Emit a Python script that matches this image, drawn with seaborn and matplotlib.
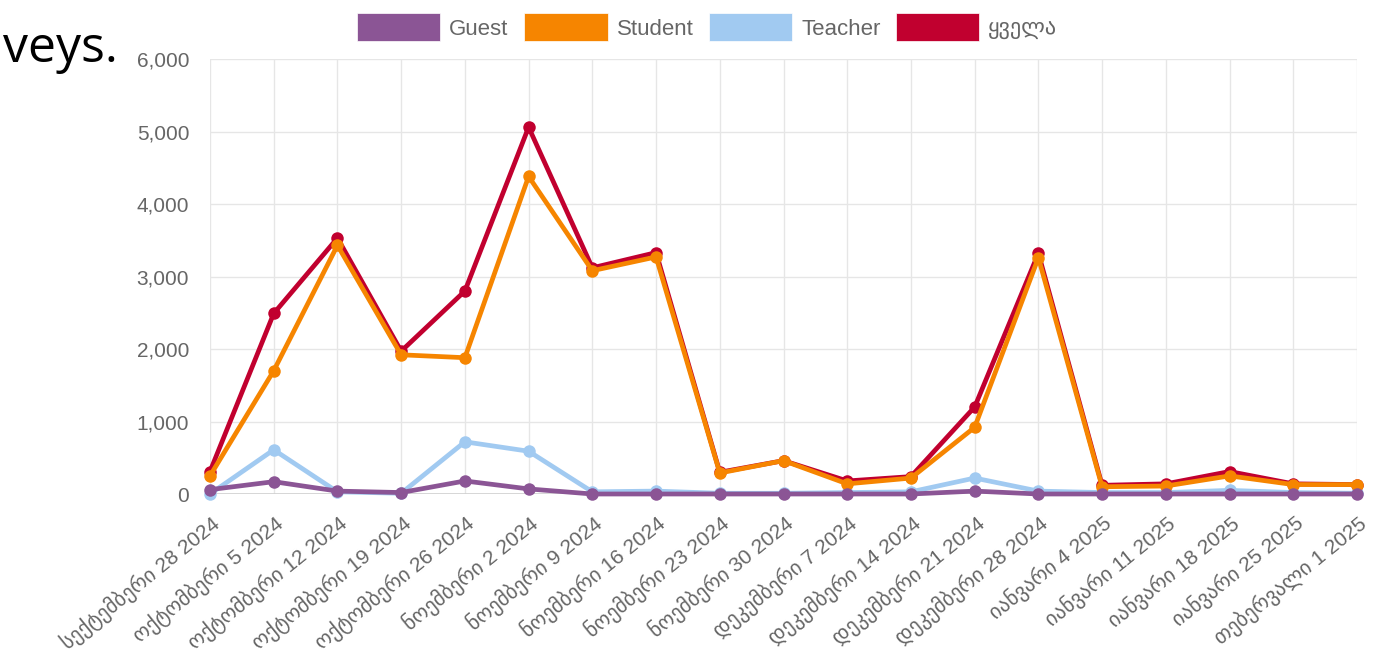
import numpy as np
import pandas as pd
import seaborn as sns
import matplotlib.pyplot as plt
from matplotlib.patches import Patch
from matplotlib.ticker import FuncFormatter

# weekly dates (Georgian labels)
dates = ['სექტემბერი 28 2024', 'ოქტომბერი 5 2024', 'ოქტომბერი 12 2024', 'ოქტომბერი 19 2024',
         'ოქტომბერი 26 2024', 'ნოემბერი 2 2024', 'ნოემბერი 9 2024', 'ნოემბერი 16 2024',
         'ნოემბერი 23 2024', 'ნოემბერი 30 2024', 'დეკემბერი 7 2024', 'დეკემბერი 14 2024',
         'დეკემბერი 21 2024', 'დეკემბერი 28 2024', 'იანვარი 4 2025', 'იანვარი 11 2025',
         'იანვარი 18 2025', 'იანვარი 25 2025', 'თებერვალი 1 2025']

guest = [60, 170, 40, 20, 180, 70, 0, 0, 0, 0, 0, 0, 40, 0, 0, 0, 0, 0, 0]
student = [250, 1700, 3430, 1920, 1880, 4380, 3080, 3270, 290, 460, 140, 220, 920, 3260, 100, 110, 250, 130, 130]
teacher = [0, 610, 30, 10, 720, 590, 30, 40, 10, 10, 20, 30, 220, 40, 20, 20, 50, 20, 10]
total = [310, 2490, 3530, 1970, 2800, 5060, 3120, 3330, 300, 460, 180, 240, 1200, 3320, 120, 140, 310, 140, 130]

series_names = ['Guest', 'Student', 'Teacher', 'ყველა']
colors = {'Guest': '#8b5595', 'Student': '#f68500', 'Teacher': '#a1caf1', 'ყველა': '#c1002f'}

df = pd.DataFrame({'idx': np.arange(len(dates)), 'Guest': guest, 'Student': student,
                   'Teacher': teacher, 'ყველა': total})

sns.set_style('white')
plt.rcParams['font.family'] = ['Liberation Sans', 'DejaVu Sans']

fig = plt.figure(figsize=(13.84, 6.67), dpi=100)
ax = fig.add_axes([210 / 1384, 1 - 494 / 667, 1147 / 1384, 435 / 667])

# first dataset on top, like the original
draw_order = ['ყველა', 'Teacher', 'Student', 'Guest']
for z, name in enumerate(draw_order):
    sns.lineplot(data=df, x='idx', y=name, ax=ax, color=colors[name], linewidth=3.4,
                 marker='o', markersize=9, markeredgewidth=0, zorder=3 + z,
                 clip_on=False, legend=False)

ax.set_xlim(0, len(dates) - 1)
ax.set_ylim(0, 6000)
ax.set_yticks(np.arange(0, 6001, 1000))
ax.yaxis.set_major_formatter(FuncFormatter(lambda v, p: f'{int(v):,}'))
ax.set_xticks(np.arange(len(dates)))
ax.set_xticklabels(dates, rotation=39, ha='right', rotation_mode='anchor')
ax.set_xlabel('')
ax.set_ylabel('')

ax.grid(True, color='#e6e6e6', linewidth=1)
for s in ax.spines.values():
    s.set_visible(False)
ax.axhline(0, color='#d0d0d0', linewidth=1.2, zorder=1)
ax.tick_params(axis='both', length=9, color='#e6e6e6', labelcolor='#666666',
               labelsize=15)
ax.tick_params(axis='y', pad=6)
ax.tick_params(axis='x', pad=4)

handles = [Patch(facecolor=colors[n], edgecolor='white', linewidth=0.5) for n in series_names]
leg = fig.legend(handles, series_names, loc='upper center', bbox_to_anchor=(0.511, 1.01),
                 ncol=4, frameon=False, fontsize=16, handlelength=3.75, handleheight=1.55,
                 handletextpad=0.4, columnspacing=0.7)
for t in leg.get_texts():
    t.set_color('#666666')

fig.text(118 / 1384, 1 - 62 / 667, 'veys.', fontsize=36, family='Open Sans',
         ha='right', va='baseline', color='black')

fig.savefig('out.png', dpi=100)
